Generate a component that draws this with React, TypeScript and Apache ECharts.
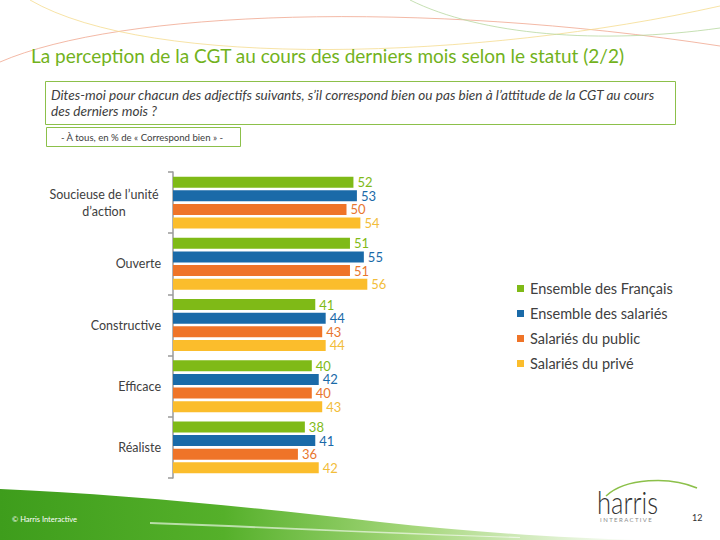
import React, { useEffect, useRef } from "react";
import * as echarts from "echarts";

const categories = ["Soucieuse de l’unité d’action", "Ouverte", "Constructive", "Efficace", "Réaliste"];
const seriesNames = ["Ensemble des Français", "Ensemble des salariés", "Salariés du public", "Salariés du privé"];
const francais = [52, 51, 41, 40, 38];
const salaries = [53, 55, 44, 42, 41];
const publicSect = [50, 51, 43, 40, 36];
const prive = [54, 56, 44, 43, 42];
const colors = ["#7fba17", "#1a6aa8", "#ef7428", "#fbbd2c"];
const labelColors = ["#7fba17", "#1a6aa8", "#e8762e", "#f2bd3a"];

const FONT = "Lato, 'Open Sans', sans-serif";

echarts.graphic.registerShape(
  "swoosh",
  echarts.graphic.extendPath("M0,489 C120,494 260,508 380,522 C470,532 560,538 640,540 L0,540 Z", {})
);
echarts.graphic.registerShape(
  "swooshHi",
  echarts.graphic.extendPath("M150,522 C260,526 380,532 520,537 L520,538 C380,534 260,528 150,524 Z", {})
);

export default function App() {
  const ref = useRef<HTMLDivElement>(null);
  useEffect(() => {
    if (!ref.current) return;
    const chart = echarts.init(ref.current, null, { renderer: "svg" });
    const data = [francais, salaries, publicSect, prive];
    const option: any = {
      animation: false,
      backgroundColor: "#ffffff",
      grid: { left: 173, top: 172, width: 347, height: 306, containLabel: false },
      xAxis: { type: "value", min: 0, max: 100, show: false },
      yAxis: {
        type: "category",
        data: categories,
        inverse: true,
        axisLine: { show: true, lineStyle: { color: "#9a9a9a", width: 1.5 } },
        axisTick: { show: true, length: 5, lineStyle: { color: "#9a9a9a", width: 1.5 } },
        axisLabel: {
          margin: 12,
          color: "#404040",
          fontFamily: FONT,
          fontSize: 12.5,
          formatter: (v: string) => {
            if (v.indexOf("Soucieuse") === 0) {
              return "{c|Soucieuse de l’unité}\n{c|d’action}";
            }
            return v;
          },
          rich: {
            c: { width: 114, align: "center", fontSize: 12.5, color: "#404040", fontFamily: FONT, lineHeight: 17 },
          },
        },
      },
      legend: {
        orient: "vertical",
        left: 512,
        top: 275,
        itemWidth: 7,
        itemHeight: 7,
        itemGap: 8,
        icon: "rect",
        data: seriesNames,
        textStyle: { color: "#404040", fontSize: 14.5, fontFamily: FONT, lineHeight: 17, padding: [0, 0, 0, 1] },
      },
      series: seriesNames.map((name, i) => ({
        name,
        type: "bar",
        data: data[i],
        barWidth: 11,
        barGap: "24%",
        itemStyle: { color: colors[i] },
        label: {
          show: true,
          position: "right",
          distance: 4,
          color: labelColors[i],
          fontFamily: FONT,
          fontSize: 13,
          lineHeight: 12,
        },
      })),
      graphic: [
        // decorative top curves
        { type: "bezierCurve", shape: { x1: 0, y1: 62, cpx1: 120, cpy1: 10, cpx2: 420, cpy2: 0, x2: 720, y2: 46 }, style: { stroke: "#f0a890", lineWidth: 1, fill: null, opacity: 0.8 }, silent: true },
        { type: "bezierCurve", shape: { x1: 30, y1: 0, cpx1: 150, cpy1: 70, cpx2: 480, cpy2: 60, x2: 720, y2: 6 }, style: { stroke: "#f5dc90", lineWidth: 1, fill: null, opacity: 0.8 }, silent: true },
        { type: "bezierCurve", shape: { x1: 410, y1: 0, cpx1: 480, cpy1: 35, cpx2: 600, cpy2: 45, x2: 720, y2: 28 }, style: { stroke: "#b8d8a0", lineWidth: 1, fill: null, opacity: 0.8 }, silent: true },
        // title
        { type: "text", left: 31, top: 46, style: { text: "La perception de la CGT au cours des derniers mois selon le statut (2/2)", fill: "#72b21c", font: `19px ${FONT}` } },
        // question box
        { type: "rect", shape: { x: 45.5, y: 81.5, width: 630, height: 43 }, style: { fill: "#fff", stroke: "#8cc04a", lineWidth: 1 } },
        { type: "text", left: 51, top: 87, style: { text: "Dites-moi pour chacun des adjectifs suivants, s’il correspond bien ou pas bien à l’attitude de la CGT au cours\ndes derniers mois ?", fill: "#404040", font: `italic 13.6px ${FONT}`, lineHeight: 16 } },
        { type: "rect", shape: { x: 46.5, y: 127.5, width: 194, height: 19 }, style: { fill: "#fff", stroke: "#8cc04a", lineWidth: 1 } },
        { type: "text", x: 142, y: 137, style: { text: "- À tous, en % de « Correspond bien » -", fill: "#404040", font: `9.6px ${FONT}`, align: "center", verticalAlign: "middle" } },
        // footer swoosh
        {
          type: "swoosh", x: 0, y: 0, silent: true,
          style: {
            fill: new echarts.graphic.LinearGradient(0, 0, 1, 0, [
              { offset: 0, color: "#3e9d1c" },
              { offset: 0.35, color: "#55b02a" },
              { offset: 0.65, color: "#a6d77c" },
              { offset: 1, color: "#ffffff" },
            ]),
          },
        },
        { type: "swooshHi", x: 0, y: 0, silent: true, style: { fill: "rgba(255,255,255,0.6)" } },
        { type: "text", left: 12, top: 515, style: { text: "© Harris Interactive", fill: "#ffffff", font: `7.5px ${FONT}` } },
        // harris logo
        { type: "bezierCurve", shape: { x1: 606, y1: 496, cpx1: 625, cpy1: 478, cpx2: 670, cpy2: 476, x2: 697, y2: 488 }, style: { stroke: "#8cc04a", lineWidth: 1.5, fill: null } },
        { type: "text", x: 597, y: 485, scaleX: 0.8, style: { text: "harris", fill: "#333333", font: `300 32px ${FONT}`, verticalAlign: "top" } },
        { type: "text", left: 600, top: 516, style: { text: "I N T E R A C T I V E", fill: "#8a8a8a", font: `6px ${FONT}` } },
        { type: "text", left: 692, top: 513, style: { text: "12", fill: "#333333", font: `9px ${FONT}` } },
      ],
    };
    chart.setOption(option);
    return () => chart.dispose();
  }, []);
  return <div ref={ref} style={{ position: "fixed", left: 0, top: 0, width: 720, height: 540 }} />;
}
